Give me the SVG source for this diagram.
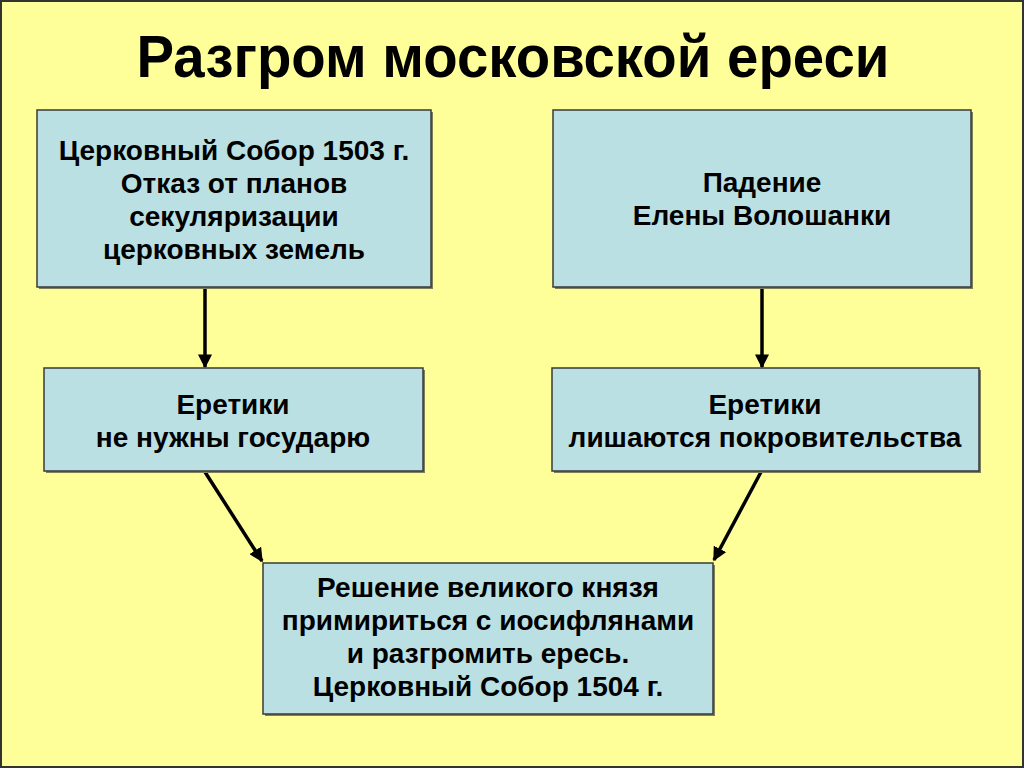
<svg xmlns="http://www.w3.org/2000/svg" width="1024" height="768" viewBox="0 0 1024 768">
  <defs>
    <style>
      .bg { fill: #FFFF99; stroke: #333; stroke-width: 2; }
      .box { fill: #BBE0E3; stroke: #3A3A3A; stroke-width: 1.5; }
      .shadow { fill: #7F7F5A; }
      .t { font-family: "Liberation Sans", Arial, sans-serif; font-weight: bold; font-size: 28px; fill: #000; text-anchor: middle; }
      .title { font-family: "Liberation Sans Narrow", "Liberation Sans", Arial, sans-serif; font-weight: bold; font-size: 56px; fill: #000; text-anchor: middle; }
      .conn { stroke: #000; stroke-width: 3.5; fill: none; marker-end: url(#arr); }
    </style>
    <marker id="arr" viewBox="0 0 10 10" refX="9" refY="5" markerWidth="4" markerHeight="4" orient="auto" markerUnits="strokeWidth">
      <path d="M0,0 L10,5 L0,10 z" fill="#000"/>
    </marker>
  </defs>
  <rect class="bg" x="1" y="1" width="1022" height="766"/>
  <text class="title" x="513" y="77" textLength="753" lengthAdjust="spacingAndGlyphs" transform="translate(0,-5.4) scale(1,1.07)">Разгром московской ереси</text>

  <g id="connectors">
    <line class="conn" x1="205" y1="288" x2="205" y2="367"/>
    <line class="conn" x1="762" y1="288" x2="762" y2="367"/>
    <line class="conn" x1="205" y1="472" x2="262" y2="561"/>
    <line class="conn" x1="761" y1="472" x2="714" y2="560"/>
  </g>

  <g id="node1">
    <rect class="shadow" x="39" y="112" width="394" height="177"/>
    <rect class="box" x="37" y="110" width="394" height="177"/>
    <text class="t" x="234" y="160">Церковный Собор 1503 г.</text>
    <text class="t" x="234" y="193">Отказ от планов</text>
    <text class="t" x="234" y="226">секуляризации</text>
    <text class="t" x="234" y="259">церковных земель</text>
  </g>
  <g id="node2">
    <rect class="shadow" x="555" y="112" width="418" height="177"/>
    <rect class="box" x="553" y="110" width="418" height="177"/>
    <text class="t" x="762" y="192">Падение</text>
    <text class="t" x="762" y="225">Елены Волошанки</text>
  </g>
  <g id="node3">
    <rect class="shadow" x="46" y="370" width="379" height="103"/>
    <rect class="box" x="44" y="368" width="379" height="103"/>
    <text class="t" x="233" y="414">Еретики</text>
    <text class="t" x="233" y="447">не нужны государю</text>
  </g>
  <g id="node4">
    <rect class="shadow" x="554" y="370" width="427" height="103"/>
    <rect class="box" x="552" y="368" width="427" height="103"/>
    <text class="t" x="765" y="414">Еретики</text>
    <text class="t" x="765" y="447">лишаются покровительства</text>
  </g>
  <g id="node5">
    <rect class="shadow" x="265" y="565" width="450" height="151"/>
    <rect class="box" x="263" y="563" width="450" height="151"/>
    <text class="t" x="488" y="597">Решение великого князя</text>
    <text class="t" x="488" y="630">примириться с иосифлянами</text>
    <text class="t" x="488" y="663">и разгромить ересь.</text>
    <text class="t" x="488" y="696">Церковный Собор 1504 г.</text>
  </g>
</svg>
